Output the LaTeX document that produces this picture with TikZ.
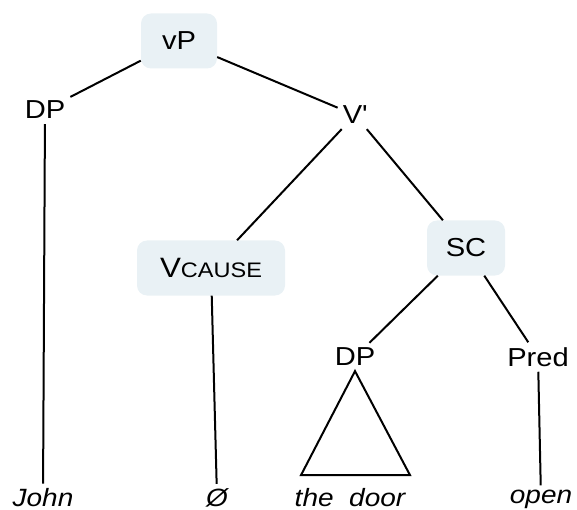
\documentclass[tikz,border=0pt]{standalone}
\usepackage{fontspec}
\setmainfont[FakeStretch=1.12]{Liberation Sans}
\usepackage{tikz}
\tikzstyle{treePlane} = [x = 1pt, y = -1pt]
\definecolor{boxColor}{RGB}{233,241,245}
\tikzstyle{phraseBox} = [fill=boxColor, rounded corners = 10pt, minimum height = 55pt, font=\fontsize{26}{30}\selectfont]
\tikzstyle{phraseText} = [inner sep = 5pt, font=\fontsize{26}{30}\selectfont]
\tikzstyle{leafText} = [anchor=base, inner sep = 4pt, font=\fontsize{25}{30}\selectfont\itshape]
\tikzstyle{branchLine} = [line width = 2pt, color=black]
\newcommand{\smallCaps}[1]{{\fontsize{21}{24}\selectfont #1}}

\begin{document}
\begin{tikzpicture}[treePlane]
  \useasboundingbox (0,0) rectangle (577,510);
  % phrase nodes
  \node [phraseBox, minimum width = 76pt] (vP) at (179,41) {vP};
  \node [phraseText] (dpSubj) at (45,110) {DP};
  \node [phraseText] (vBar) at (355,115) {V\textquotesingle};
  \node [phraseBox, minimum width = 148pt] (vCause) at (211,268) {{\fontsize{28}{30}\selectfont V}\smallCaps{CAUSE}};
  \node [phraseBox, minimum width = 78pt] (sc) at (466,248) {SC};
  \node [phraseText] (dpObj) at (355,357) {DP};
  \node [phraseText] (pred) at (538,357) {Pred};
  % leaves
  \node [leafText] (john) at (43,506) {John};
  \node [leafText] (nullHead) at (217,506) {Ø};
  \node [leafText] (theDoor) at (350,506) {the\ \ door};
  \node [leafText] (open) at (541,503) {open};
  % branches
  \draw [branchLine] (vP) -- (dpSubj);
  \draw [branchLine] (vP) -- (vBar);
  \draw [branchLine] (vBar) -- (vCause);
  \draw [branchLine] (vBar) -- (sc);
  \draw [branchLine] (sc) -- (dpObj);
  \draw [branchLine] (sc) -- (pred);
  \draw [branchLine] (dpSubj) -- (john);
  \draw [branchLine] (vCause) -- (nullHead);
  \draw [branchLine] (pred) -- (open);
  % triangle over the object
  \draw [branchLine] (dpObj.south) -- ++(-54,104) -- ++(109,0) -- cycle;
\end{tikzpicture}
\end{document}
